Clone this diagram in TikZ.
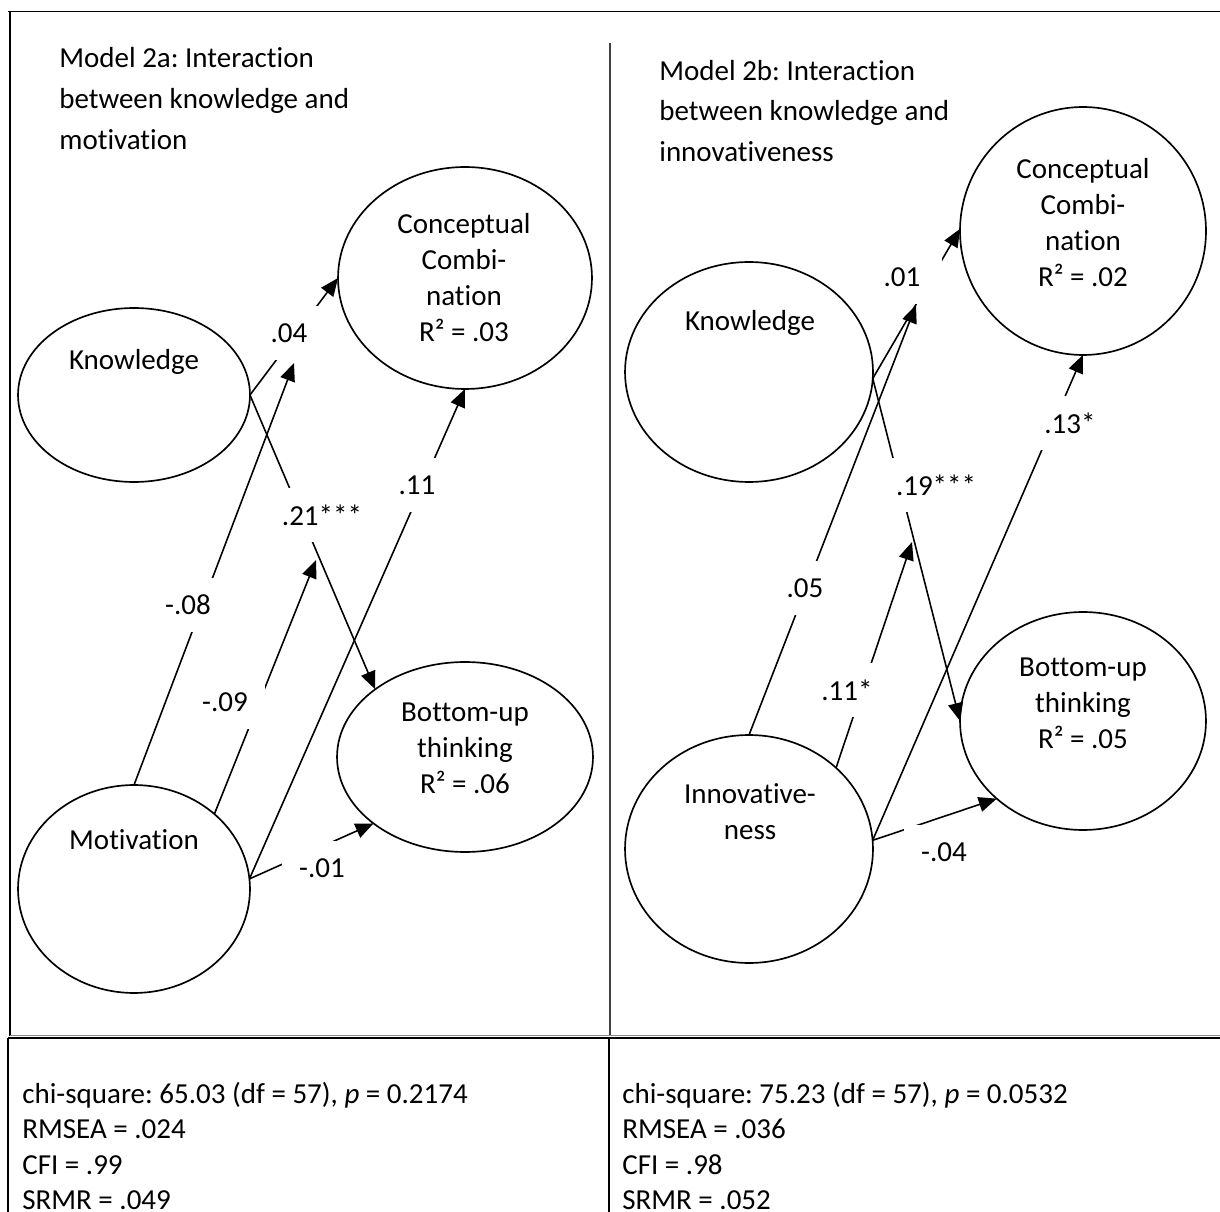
\documentclass[tikz,border=0pt]{standalone}
\usepackage{fontspec}
\setmainfont{Carlito}[Ligatures=NoCommon]
\frenchspacing
\usetikzlibrary{arrows.meta,shapes.geometric}
\begin{document}
\begin{tikzpicture}[x=0.02cm,y=-0.02cm,
  every node/.style={font=\fontsize{16.5pt}{20.5pt}\selectfont},
  latent/.style={ellipse,draw,line width=0.95pt,inner sep=0pt,outer sep=0pt},
  effect/.style={line width=0.9pt,-{Triangle[length=0.36cm,width=0.3cm]}},
  coef/.style={fill=white,inner xsep=0.08cm,inner ysep=0pt,
    minimum width=1.6cm,minimum height=1.08cm},
  vname/.style={align=center},
  heading/.style={align=left,anchor=west,inner sep=0pt,
    font=\fontsize{16.5pt}{23.3pt}\selectfont},
  fitnote/.style={align=left,anchor=west,inner sep=0pt,
    font=\fontsize{16.5pt}{20.2pt}\selectfont},
  borderline/.style={line width=1.1pt}]

\useasboundingbox (0,0) rectangle (1220,1212);

% table frame
\draw[borderline] (8,11.5) -- (1220,11.5);
\draw[borderline] (10,11.5) -- (10,1036);
\draw[line width=0.8pt,black!75] (610,43) -- (610,1036);
\draw[line width=0.6pt,black!45] (10,1035.3) -- (1220,1035.3);
\draw[line width=1.4pt] (8,1038) -- (1220,1038);
\draw[borderline] (8,1038) -- (8,1212);
\draw[borderline] (609,1038) -- (609,1212);

% headings
\node[heading] (title1) at (59,98.5) {Model 2a: Interaction\\between knowledge and\\motivation};
\node[heading] (title2) at (659,111) {Model 2b: Interaction\\between knowledge and\\innovativeness};

% latent variables, model 2a
\node[latent,minimum width=4.64cm,minimum height=3.48cm] (kn1) at (134,395) {};
\node[latent,minimum width=5.08cm,minimum height=4.44cm] (cc1) at (465,278) {};
\node[latent,minimum width=4.64cm,minimum height=4.16cm] (mo1) at (134,889) {};
\node[latent,minimum width=5.12cm,minimum height=3.80cm] (bu1) at (465,757) {};

% latent variables, model 2b
\node[latent,minimum width=4.96cm,minimum height=4.40cm] (kn2) at (749,372) {};
\node[latent,minimum width=4.92cm,minimum height=4.96cm] (cc2) at (1083,231) {};
\node[latent,minimum width=4.96cm,minimum height=4.56cm] (in2) at (749,849) {};
\node[latent,minimum width=4.92cm,minimum height=4.36cm] (bu2) at (1083,721) {};

% variable names
\node (kn1t) at (134,362) {Knowledge};
\node (mo1t) at (134,840) {Motivation};
\node[vname] (cc1t) at (464,278) {Conceptual\\Combi-\\nation\\R² = .03};
\node[vname] (bu1t) at (465,748) {Bottom-up\\thinking\\R² = .06};
\node (kn2t) at (750,323) {Knowledge};
\node[vname] (in2t) at (750,812) {Innovative-\\ness};
\node[vname] (cc2t) at (1083,223) {Conceptual\\Combi-\\nation\\R² = .02};
\node[vname] (bu2t) at (1083,703) {Bottom-up\\thinking\\R² = .05};

% moderation targets on the knowledge paths
\coordinate (m1) at (294,363);
\coordinate (m2) at (316,560);
\coordinate (m3) at (916,305);
\coordinate (m4) at (912,542);

% paths, model 2a
\draw[effect] (kn1.east) -- (cc1.west);
\draw[effect] (kn1.east) -- (bu1.143);
\draw[effect] (mo1.5) -- (cc1.south);
\draw[effect] (mo1.5) -- (bu1.216);
\draw[effect] (mo1.north) -- (m1);
\draw[effect] (mo1.43) -- (m2);

% paths, model 2b
\draw[effect] (kn2.357) -- (cc2.179);
\draw[effect] (kn2.357) -- (bu2.west);
\draw[effect] (in2.north) -- (m3);
\draw[effect] (in2.43) -- (m4);
\draw[effect] (in2.4) -- (cc2.south);
\draw[effect] (in2.4) -- (bu2.222);

% path coefficients
\node[coef] (c04) at (289,333) {.04};
\node[coef] (c21) at (322,515) {.21***};
\node[coef] (c11) at (417,485) {.11};
\node[coef] (c01m) at (322,868) {-.01};
\node[coef] (c08) at (188,605) {-.08};
\node[coef] (c09) at (225,702) {-.09};

\node[coef] (c01) at (902,277) {.01};
\node[coef] (c19) at (936,485) {.19***};
\node[coef] (c05) at (805,588) {.05};
\node[coef] (c11s) at (847,690) {.11*};
\node[coef] (c13) at (1070,423) {.13*};
\node[coef] (c04m) at (944,852) {-.04};

% fit statistics
\node[fitnote] (fit1) at (22,1146) {chi-square: 65.03 (df = 57), \textit{p} = 0.2174\\RMSEA = .024\\CFI = .99\\SRMR = .049};
\node[fitnote] (fit2) at (622,1146) {chi-square: 75.23 (df = 57), \textit{p} = 0.0532\\RMSEA = .036\\CFI = .98\\SRMR = .052};
\end{tikzpicture}
\end{document}
